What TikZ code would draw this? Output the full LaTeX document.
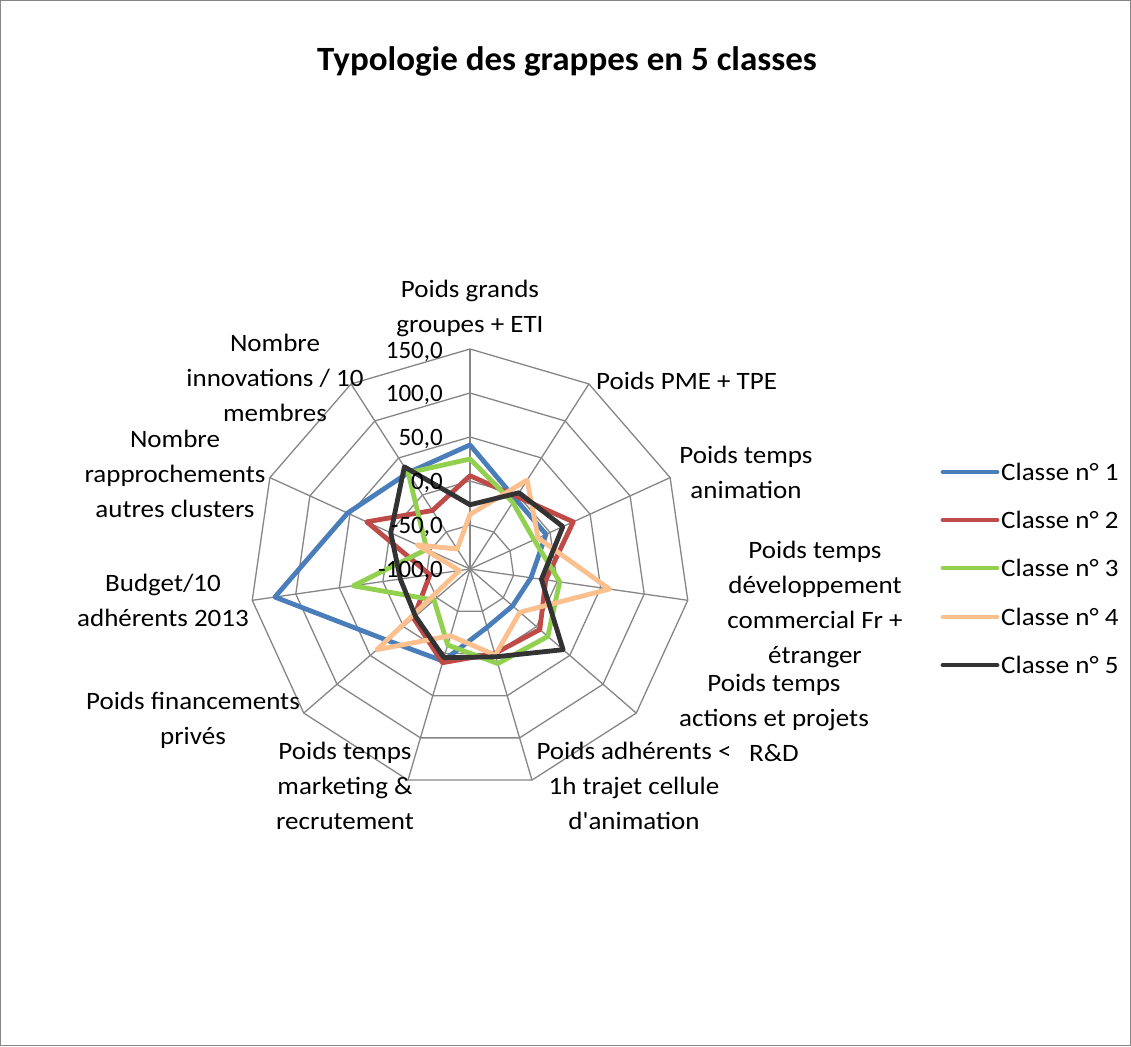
\documentclass[tikz,border=0pt]{standalone}
\usepackage{fontspec}
\setmainfont{Carlito}
\newfontfamily\labfont{Carlito}[FakeStretch=1.08]
\newfontfamily\titfont{Carlito}[FakeStretch=1.03]
\definecolor{gridgray}{HTML}{868686}
\definecolor{cA}{HTML}{4A7EBB}
\definecolor{cB}{HTML}{BE4B48}
\definecolor{cC}{HTML}{92D050}
\definecolor{cD}{HTML}{FCC08F}
\definecolor{cE}{HTML}{333333}
\newcommand\radpt[2]{({470+((#2)+100)*0.88*sin((#1)*360/11)},{569-((#2)+100)*0.88*cos((#1)*360/11)})}
\begin{document}
\begin{tikzpicture}[x=1pt,y=-1pt,
  gridline/.style={draw=gridgray,line width=1.3pt},
  serie/.style={line width=4.8pt,line join=round},
  lbl/.style={font=\labfont\fontsize{25}{35}\selectfont,align=center,inner sep=0pt},
  vlbl/.style={font=\fontsize{25}{30}\selectfont,inner sep=0pt,anchor=east},
  legtxt/.style={font=\labfont\fontsize{25}{30}\selectfont,inner sep=4pt,anchor=west}]
\useasboundingbox (0,0) rectangle (1131,1046);
\fill[white] (0,0) rectangle (1131,1046);
\draw[gridgray,line width=1.3pt] (0.8,0.8) rectangle (1130.2,1045.2);
% title
\node[font=\titfont\fontsize{34}{40}\selectfont\bfseries,inner sep=0pt] (title) at (567,61) {Typologie des grappes en 5 classes};
% grid rings
\foreach \r in {44,88,132,176,220}{
  \draw[gridline] (470,569-\r) \foreach \k in {1,...,10}{ -- ({470+\r*sin(\k*360/11)},{569-\r*cos(\k*360/11)}) } -- cycle;
}
% spokes
\coordinate (ctr) at (470,569);
\foreach \k in {0,...,10}{
  \coordinate (sp\k) at ({470+220*sin(\k*360/11)},{569-220*cos(\k*360/11)});
  \draw[gridline] (ctr) -- (sp\k);
}
% series
\draw[serie,cA] \radpt{0}{41} -- \radpt{1}{-5} -- \radpt{2}{-5} -- \radpt{3}{-30} -- \radpt{4}{-36} -- \radpt{5}{-31} -- \radpt{6}{9} -- \radpt{7}{24} -- \radpt{8}{124} -- \radpt{9}{53} -- \radpt{10}{30} -- cycle;
\draw[serie,cB] \radpt{0}{6} -- \radpt{1}{-2} -- \radpt{2}{29} -- \radpt{3}{-13} -- \radpt{4}{5} -- \radpt{5}{0} -- \radpt{6}{11} -- \radpt{7}{-15} -- \radpt{8}{-54} -- \radpt{9}{29} -- \radpt{10}{-21} -- cycle;
\draw[serie,cC] \radpt{0}{25} -- \radpt{1}{-10} -- \radpt{2}{-20} -- \radpt{3}{3} -- \radpt{4}{17} -- \radpt{5}{12} -- \radpt{6}{-10} -- \radpt{7}{-46} -- \radpt{8}{34} -- \radpt{9}{-46} -- \radpt{10}{30} -- cycle;
\draw[serie,cD] \radpt{0}{-38} -- \radpt{1}{20} -- \radpt{2}{-15} -- \radpt{3}{60} -- \radpt{4}{-25} -- \radpt{5}{2} -- \radpt{6}{-21} -- \radpt{7}{40} -- \radpt{8}{-88} -- \radpt{9}{-34} -- \radpt{10}{-73} -- cycle;
\draw[serie,cE] \radpt{0}{-27} -- \radpt{1}{3} -- \radpt{2}{16} -- \radpt{3}{-18} -- \radpt{4}{40} -- \radpt{5}{4} -- \radpt{6}{5} -- \radpt{7}{-18} -- \radpt{8}{-20} -- \radpt{9}{-1} -- \radpt{10}{38} -- cycle;
% value labels
\node[vlbl] (v150) at (443,352) {150,0};
\node[vlbl] (v100) at (443,395) {100,0};
\node[vlbl] (v50) at (443,439) {50,0};
\node[vlbl] (v0) at (443,483) {0,0};
\node[vlbl] (vm50) at (443,527) {-50,0};
\node[vlbl] (vm100) at (443,571) {-100,0};
% axis labels
\node[lbl] (ax0) at (470,308) {Poids grands\\groupes + ETI};
\node[lbl,anchor=west] (ax1) at (596,381) {Poids PME + TPE};
\node[lbl] (ax2) at (746,472) {Poids temps\\animation};
\node[lbl] (ax3) at (815,604) {Poids temps\\développement\\commercial Fr +\\étranger};
\node[lbl] (ax4) at (774,718) {Poids temps\\actions et projets\\R\&D};
\node[lbl] (ax5) at (634,786) {Poids adhérents <\\1h trajet cellule\\d'animation};
\node[lbl] (ax6) at (345,786) {Poids temps\\marketing \&\\recrutement};
\node[lbl] (ax7) at (193,720) {Poids financements\\privés};
\node[lbl] (ax8) at (163,600) {Budget/10\\adhérents 2013};
\node[lbl] (ax9) at (175,474) {Nombre\\rapprochements\\autres clusters};
\node[lbl] (ax10) at (275,378) {Nombre\\innovations / 10\\membres};
% legend
\foreach \i/\c/\y in {1/cA/472,2/cB/520,3/cC/568,4/cD/617,5/cE/665}{
  \coordinate (la\i) at (943,\y);
  \node[legtxt] (leg\i) at (997,\y) {Classe n° \i};
  \draw[serie,\c,line cap=round] (la\i) -- (leg\i.west);
}
\end{tikzpicture}
\end{document}
